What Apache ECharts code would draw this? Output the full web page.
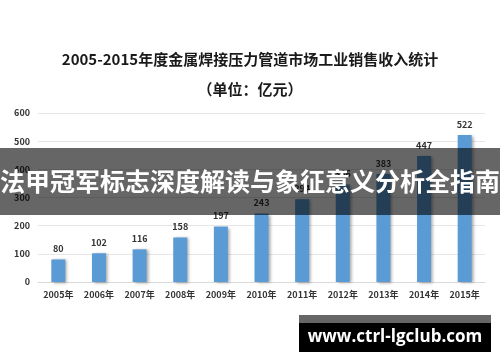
<!DOCTYPE html>
<html><head><meta charset="utf-8">
<script src="https://cdn.jsdelivr.net/npm/echarts@6/dist/echarts.min.js"></script>
<style>html,body{margin:0;padding:0;background:#fff}#c{width:500px;height:362px}</style>
</head><body><div id="c"></div>
<script>
var categories = ['2005年','2006年','2007年','2008年','2009年','2010年','2011年','2012年','2013年','2014年','2015年'];
var values = [80,102,116,158,197,243,294,346,383,447,522];
var yTicks = [0,100,200,300,400,500,600];

var chart = echarts.init(document.getElementById('c'));
var F = '"Noto Sans CJK SC","Noto Sans",sans-serif';
chart.setOption({
  animation:false,
  title:[{text:'2005-2015年度金属焊接压力管道市场工业销售收入统计',left:'center',top:47,
    textStyle:{fontFamily:F,fontSize:15,fontWeight:'bold',color:'#1a1a1a'}},
    {text:'（单位：亿元）',left:'center',top:77,textStyle:{fontFamily:F,fontSize:15,fontWeight:'bold',color:'#1a1a1a'}}],
  grid:{left:38,right:15,top:113,bottom:80},
  xAxis:{type:'category',data:categories,
    axisLine:{lineStyle:{color:'#d9d9d9'}},axisTick:{show:false},
    axisLabel:{fontFamily:F,fontSize:9,fontWeight:'bold',color:'#333',margin:8}},
  yAxis:{type:'value',min:yTicks[0],max:yTicks[yTicks.length-1],interval:100,
    axisLine:{show:false},axisTick:{show:false},
    splitLine:{lineStyle:{color:'#e6e6e6'}},
    axisLabel:{fontFamily:F,fontSize:9,fontWeight:'bold',color:'#333',margin:8}},
  series:[{type:'bar',data:values,barWidth:14,
    itemStyle:{color:'#5b9bd5',shadowColor:'rgba(0,0,0,0.35)',shadowOffsetX:2,shadowOffsetY:1,shadowBlur:3},
    label:{show:true,position:'top',distance:6,fontFamily:F,fontSize:9,fontWeight:'bold',color:'#333'}}],
  graphic:[
    {type:'rect',z:100,shape:{x:0,y:148,width:500,height:67},style:{fill:'rgba(0,0,0,0.6)'}},
    {type:'text',z:101,x:250,y:181,style:{text:'法甲冠军标志深度解读与象征意义分析全指南',fill:'#fff',
      font:'bold 25px "Noto Sans CJK SC",sans-serif',textAlign:'center',textVerticalAlign:'middle'}},
    {type:'rect',z:100,shape:{x:299,y:315,width:192,height:8},style:{fill:'#666'}},
    {type:'rect',z:100,shape:{x:299,y:323,width:192,height:29},style:{fill:'#000'}},
    {type:'text',z:101,x:395,y:337,style:{text:'www.ctrl-lgclub.com',fill:'#fff',
      font:'bold 17px "Open Sans","DejaVu Sans",sans-serif',textAlign:'center',textVerticalAlign:'middle'}}
  ]
});
</script></body></html>
